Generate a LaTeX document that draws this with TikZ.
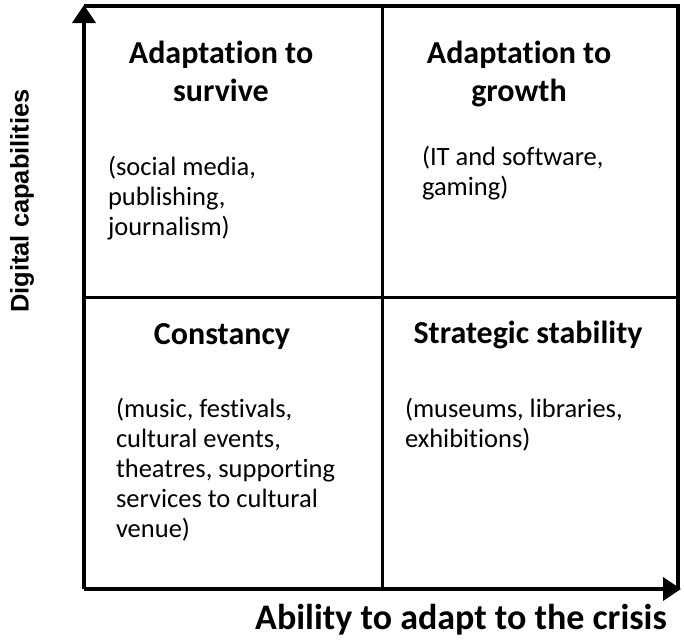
\documentclass[tikz,border=0pt]{standalone}
\usepackage{fontspec}
\setmainfont{Carlito}[RawFeature=-liga]
\newfontfamily\axisfont{Liberation Sans}
\usetikzlibrary{arrows.meta}

\begin{document}
\begin{tikzpicture}[x=1pt, y=-1pt, line width=4pt,
        quadtitle/.style={font=\fontsize{32}{38}\selectfont\bfseries, align=center, inner sep=0pt},
        quadtext/.style={font=\fontsize{26.5}{30}\selectfont, align=left, anchor=north west, inner sep=0pt},
        axislabel/.style={font=\fontsize{36}{40}\selectfont\bfseries, inner sep=0pt},
        axis/.style={-{Triangle[length=18pt, width=23pt]}},
    ]
    \useasboundingbox (0,0) rectangle (684,640);

    % Frame corners
    \coordinate (origin) at (84,589);
    \coordinate (ytip) at (84,5);
    \coordinate (xtip) at (681,589);
    \coordinate (topright) at (678,6);
    \coordinate (botright) at (678,589);
    \coordinate (midtop) at (382,6);
    \coordinate (midbot) at (382,589);
    \coordinate (midleft) at (84,297);
    \coordinate (midright) at (678,297);

    % Grid
    \draw (ytip |- topright) -- (topright) -- (botright);
    \draw[line width=3pt] (midtop) -- (midbot);
    \draw[line width=3pt] (midleft) -- (midright);

    % Axes
    \draw[axis] (origin) -- (ytip);
    \draw[axis] (origin) -- (xtip);

    % Quadrant titles
    \node[quadtitle] (survive) at (221,71) {Adaptation to\\survive};
    \node[quadtitle] (growth) at (519,74) {Adaptation to\\growth};
    \node[quadtitle] (constancy) at (222,337) {Constancy};
    \node[quadtitle] (stability) at (528,335) {Strategic stability};

    % Quadrant examples
    \node[quadtext] (surviveex) at (106,154) {(social media,\\publishing,\\journalism)};
    \node[quadtext] (growthex) at (420,144) {(IT and software,\\gaming)};
    \node[quadtext] (constancyex) at (114,396) {(music, festivals,\\cultural events,\\theatres, supporting\\services to cultural\\venue)};
    \node[quadtext] (stabilityex) at (403,396) {(museums, libraries,\\exhibitions)};

    % Axis labels
    \node[axislabel] (xlabel) at (461,620) {Ability to adapt to the crisis};
    \node[axislabel, rotate=90, font=\axisfont\fontsize{25.5}{28}\selectfont\bfseries] (ylabel) at (22,201) {Digital capabilities};
\end{tikzpicture}
\end{document}
